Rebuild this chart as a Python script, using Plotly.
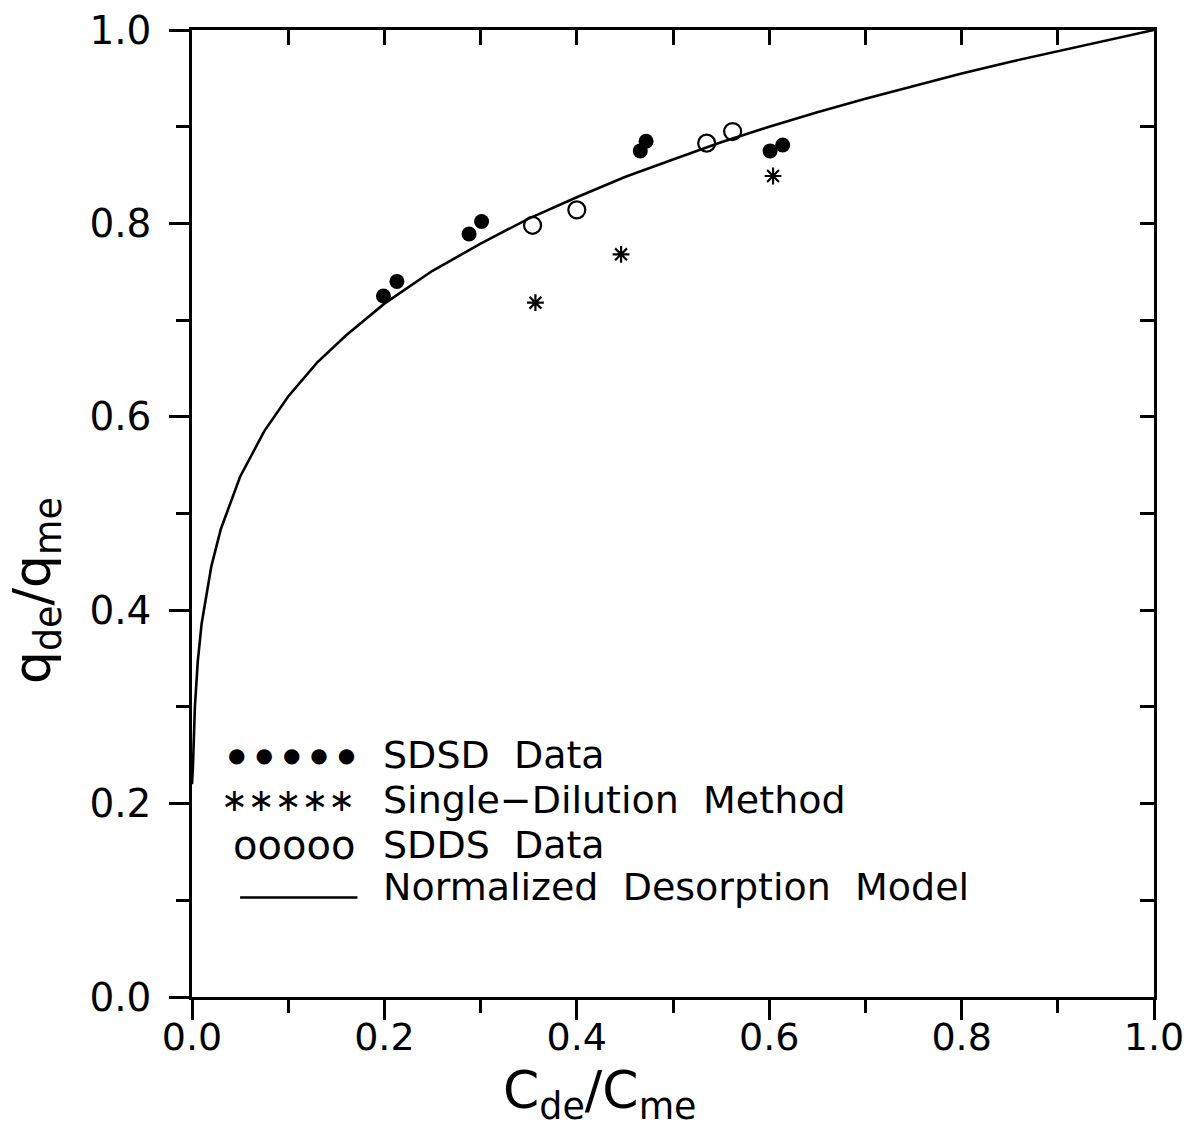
import plotly.graph_objects as go

# ---- data ----
sdsd_x = [0.199, 0.213, 0.288, 0.301, 0.466, 0.472, 0.601, 0.614]
sdsd_y = [0.725, 0.740, 0.789, 0.802, 0.875, 0.885, 0.875, 0.881]

single_x = [0.357, 0.446, 0.604]
single_y = [0.718, 0.768, 0.849]

sdds_x = [0.354, 0.400, 0.535, 0.562]
sdds_y = [0.798, 0.814, 0.883, 0.895]

model_x = [0.0, 0.001, 0.003, 0.006, 0.01, 0.02, 0.03, 0.05, 0.075, 0.1, 0.13, 0.16,
           0.2, 0.25, 0.3, 0.35, 0.4, 0.45, 0.5, 0.55, 0.6, 0.65, 0.7, 0.75, 0.8,
           0.85, 0.9, 0.95, 1.0]
model_y = [0.22, 0.239, 0.300, 0.347, 0.386, 0.445, 0.484, 0.538, 0.585, 0.621, 0.656, 0.684,
           0.717, 0.751, 0.779, 0.805, 0.827, 0.848, 0.866, 0.884, 0.900, 0.915, 0.929, 0.942, 0.955,
           0.967, 0.978, 0.989, 1.0]

major_ticks = [0.0, 0.2, 0.4, 0.6, 0.8, 1.0]
tick_text = ["0.0", "0.2", "0.4", "0.6", "0.8", "1.0"]

legend_symbols = ["●\u2002●\u2002●\u2002●\u2002●", "∗∗∗∗∗", "ooooo"]
legend_symbol_sizes = [20, 32, 40]
legend_labels = ["SDSD  Data", "Single−Dilution  Method", "SDDS  Data",
                 "Normalized  Desorption  Model"]

FONT = "DejaVu Sans"

fig = go.Figure()
fig.add_trace(go.Scatter(x=model_x, y=model_y, mode="lines",
                         line=dict(color="black", width=2.6),
                         showlegend=False))
fig.add_trace(go.Scatter(x=sdsd_x, y=sdsd_y, mode="markers",
                         marker=dict(symbol="circle", size=15, color="black"),
                         showlegend=False))
fig.add_trace(go.Scatter(x=sdds_x, y=sdds_y, mode="markers",
                         marker=dict(symbol="circle-open", size=17, color="black",
                                     line=dict(width=2.2)),
                         showlegend=False))
fig.add_trace(go.Scatter(x=single_x, y=single_y, mode="markers",
                         marker=dict(symbol="asterisk-open", size=14, color="black",
                                     line=dict(width=2.2, color="black")),
                         showlegend=False))
# invisible trace so that the mirrored (top/right) axes are drawn
fig.add_trace(go.Scatter(x=model_x, y=model_y, xaxis="x2", yaxis="y2", mode="lines",
                         line=dict(color="rgba(0,0,0,0)"), hoverinfo="skip",
                         showlegend=False))

axis_common = dict(range=[0, 1], showgrid=False, zeroline=False, showline=True,
                   linecolor="black", linewidth=2.5, tickcolor="black", tickwidth=2.5,
                   automargin=False)

fig.update_layout(
    width=1185, height=1133,
    margin=dict(l=192, r=31, t=30, b=136, autoexpand=False),
    paper_bgcolor="white", plot_bgcolor="white",
    font=dict(family=FONT, color="black"),
    xaxis=dict(**axis_common, ticks="outside", ticklen=20,
               tickvals=major_ticks, ticktext=tick_text,
               tickfont=dict(size=38, family=FONT), ticklabeloverflow="allow",
               ticklabelstandoff=-15,
               minor=dict(tickvals=[0.1, 0.3, 0.5, 0.7, 0.9], ticklen=13,
                          tickwidth=2.5, tickcolor="black", ticks="outside")),
    yaxis=dict(**axis_common, ticks="outside", ticklen=20,
               tickvals=major_ticks, ticktext=tick_text,
               tickfont=dict(size=39, family=FONT), ticklabeloverflow="allow",
               ticklabelstandoff=10,
               minor=dict(tickvals=[0.1, 0.3, 0.5, 0.7, 0.9], ticklen=13,
                          tickwidth=2.5, tickcolor="black", ticks="outside")),
    xaxis2=dict(**axis_common, overlaying="x", side="top", ticks="inside",
                ticklen=15, tick0=0, dtick=0.1, showticklabels=False),
    yaxis2=dict(**axis_common, overlaying="y", side="right", ticks="inside",
                ticklen=14, tick0=0, dtick=0.1, showticklabels=False),
)

annotations = [
    dict(text="C<sub>de</sub>/C<sub>me</sub>", x=0.424, y=-0.10, xref="paper", yref="paper",
         showarrow=False, font=dict(size=52, family=FONT), xanchor="center", yanchor="middle"),
    dict(text="q<sub>de</sub>/q<sub>me</sub>", x=-0.162, y=0.42, xref="paper", yref="paper",
         showarrow=False, textangle=-90, font=dict(size=52, family=FONT),
         xanchor="center", yanchor="middle"),
]
row_y = [0.250, 0.204, 0.157, 0.114]
for i, sym in enumerate(legend_symbols):
    annotations.append(dict(text=sym, x=0.172, y=row_y[i], xref="paper", yref="paper",
                            showarrow=False, xanchor="right", yanchor="middle",
                            font=dict(size=legend_symbol_sizes[i], family=FONT)))
for i, lab in enumerate(legend_labels):
    annotations.append(dict(text=lab, x=0.196, y=row_y[i], xref="paper", yref="paper",
                            showarrow=False, xanchor="left", yanchor="middle",
                            font=dict(size=38, family=FONT)))
fig.update_layout(annotations=annotations)

fig.add_shape(type="line", xref="paper", yref="paper", x0=0.050, x1=0.172, y0=0.103, y1=0.103,
              line=dict(color="black", width=2.5))

fig.write_html("out.html")
